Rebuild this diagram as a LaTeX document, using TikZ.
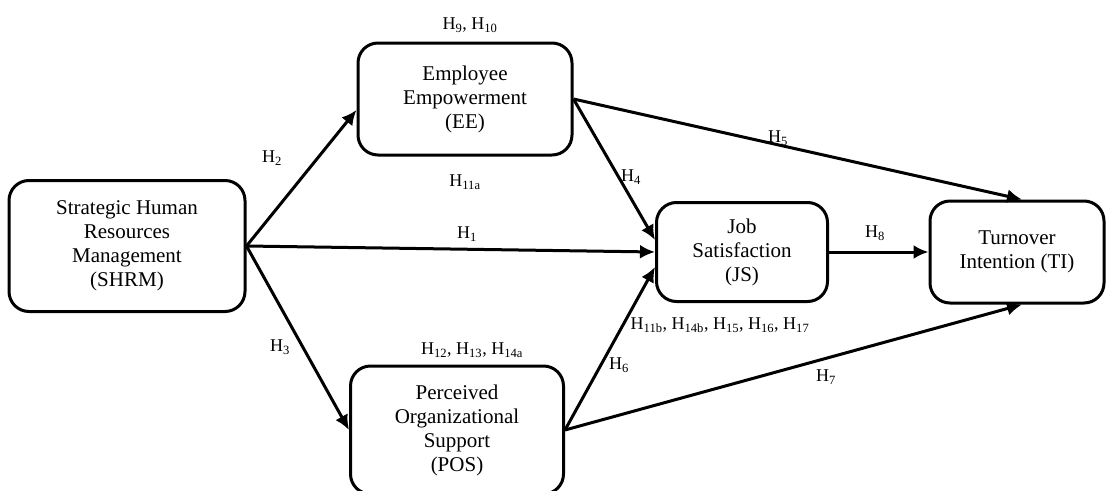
\documentclass[tikz,border=0pt]{standalone}
\usepackage{fontspec}
\setmainfont{Liberation Serif}
\usetikzlibrary{arrows.meta}

\newcommand{\hsub}[1]{H\textsubscript{#1}}

\begin{document}
\begin{tikzpicture}[x=1pt,y=-1pt]

\tikzset{construct/.style = {shape=rectangle, rounded corners=20pt, draw, line width=3pt, align=center, inner sep=0pt, font=\fontsize{21}{24}\selectfont}}
\tikzset{link/.style = {-{Latex[length=15pt,width=14pt]}, line width=3pt}}
\tikzset{hyp/.style = {inner sep=0pt, font=\fontsize{18}{21}\selectfont}}

\useasboundingbox (0,0) rectangle (1110,490);
% constructs
\node[construct, minimum width=236pt, minimum height=131pt] (shrm) at (127,246) {Strategic Human\\Resources\\Management\\(SHRM)};
\node[construct, minimum width=214pt, minimum height=112pt] (ee) at (465,99) {Employee\\Empowerment\\(EE)};
\node[construct, minimum width=213pt, minimum height=128pt] (pos) at (457,430) {Perceived\\Organizational\\Support\\(POS)};
\node[construct, minimum width=171pt, minimum height=99pt] (js) at (742,252) {Job\\Satisfaction\\(JS)};
\node[construct, minimum width=174pt, minimum height=102pt] (ti) at (1017,252) {Turnover\\Intention (TI)};
%paths
\draw[link] (shrm.east) -- ([yshift=-11pt]ee.west);
\draw[link] (shrm.east) -- (pos.west);
\draw[link] (shrm.east) -- (js.west);
\draw[link] (ee.east) -- ([xshift=5pt]ti.north);
\draw[link] (ee.east) -- ([yshift=12pt]js.west);
\draw[link] (pos.east) -- ([yshift=-15pt]js.west);
\draw[link] (pos.east) -- ([xshift=5pt]ti.south);
\draw[link] (js.east) -- (ti.west);
% hypotheses
\node[hyp] (h910) at (470,25) {\hsub{9}, \hsub{10}};
\node[hyp] (h2) at (272,158) {\hsub{2}};
\node[hyp] (h11a) at (465,182) {\hsub{11a}};
\node[hyp] (h4) at (631,177) {\hsub{4}};
\node[hyp] (h5) at (778,138) {\hsub{5}};
\node[hyp] (h1) at (467,234) {\hsub{1}};
\node[hyp] (h8) at (875,233) {\hsub{8}};
\node[hyp] (h3) at (280,347) {\hsub{3}};
\node[hyp] (h1214) at (472,350) {\hsub{12}, \hsub{13}, \hsub{14a}};
\node[hyp] (h6) at (619,365) {\hsub{6}};
\node[hyp] (h1117) at (720,325) {\hsub{11b}, \hsub{14b}, \hsub{15}, \hsub{16}, \hsub{17}};
\node[hyp] (h7) at (826,377) {\hsub{7}};

\end{tikzpicture}
\end{document}
